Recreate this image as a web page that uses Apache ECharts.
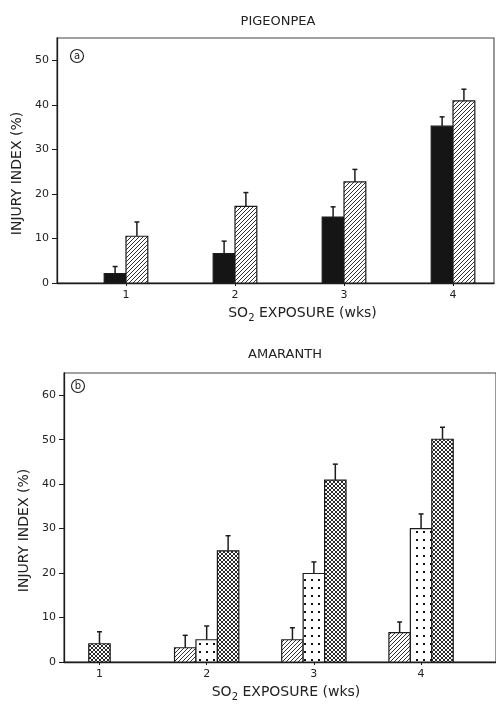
<!DOCTYPE html>
<html>
<head>
<meta charset="utf-8">
<script src="https://cdn.jsdelivr.net/npm/echarts@6/dist/echarts.min.js"></script>
<style>
  html, body { margin: 0; padding: 0; background: #fff; }
  #chart { width: 496px; height: 707px; }
</style>
</head>
<body>
<div id="chart"></div>
<script>
// weeks of SO2 exposure
const weeks = [1, 2, 3, 4];

// (a) pigeonpea - injury index (%) and upper error
const pigeonSolid = [2.1, 6.6, 14.8, 35.2];
const pigeonSolidErr = [1.6, 2.8, 2.3, 2.1];
const pigeonHatch = [10.5, 17.2, 22.7, 40.9];
const pigeonHatchErr = [3.2, 3.1, 2.8, 2.6];

// (b) amaranth
const amaHatch = [null, 3.2, 5.0, 6.6];
const amaHatchErr = [null, 2.8, 2.7, 2.4];
const amaDots = [null, 5.0, 19.9, 30.0];
const amaDotsErr = [null, 3.1, 2.6, 3.3];
const amaCross = [4.1, 25.0, 40.9, 50.1];
const amaCrossErr = [2.7, 3.4, 3.6, 2.7];

const topTicks = [0, 10, 20, 30, 40, 50];
const bottomTicks = [0, 10, 20, 30, 40, 50, 60];

const ink = '#1c1c1c';
const font = 'DejaVu Sans';

// fill patterns
function makeTile(w, h, draw) {
  const c = document.createElement('canvas');
  c.width = w;
  c.height = h;
  const g = c.getContext('2d');
  g.fillStyle = '#fff';
  g.fillRect(0, 0, w, h);
  draw(g);
  return { image: c, repeat: 'repeat' };
}
const hatchFill = makeTile(4, 4, g => {
  g.strokeStyle = '#333';
  g.lineWidth = 1;
  g.beginPath();
  g.moveTo(-1, 5); g.lineTo(5, -1);
  g.moveTo(-1, 1); g.lineTo(1, -1);
  g.moveTo(3, 5); g.lineTo(5, 3);
  g.stroke();
});
const crossFill = makeTile(4, 4, g => {
  g.strokeStyle = '#2a2a2a';
  g.lineWidth = 1;
  g.beginPath();
  g.moveTo(-1, 5); g.lineTo(5, -1);
  g.moveTo(-1, 1); g.lineTo(1, -1);
  g.moveTo(3, 5); g.lineTo(5, 3);
  g.moveTo(-1, -1); g.lineTo(5, 5);
  g.moveTo(-1, 3); g.lineTo(1, 5);
  g.moveTo(3, -1); g.lineTo(5, 1);
  g.stroke();
});
const dotFill = makeTile(7, 8, g => {
  g.fillStyle = '#111';
  g.fillRect(3, 3, 2, 2);
});

// bars of one panel, side by side and centred on each week
function panelSeries(idx, sets) {
  return {
    type: 'custom',
    xAxisIndex: idx,
    yAxisIndex: idx,
    clip: false,
    data: weeks.map(w => [w, 0]),
    encode: { x: 0, y: 1 },
    renderItem: (params, api) => {
      const i = params.dataIndex;
      const present = sets.filter(s => s.values[i] != null);
      const bw = api.size([1, 0])[0] * 0.2;
      const base = api.coord([weeks[i], 0]);
      const x0 = base[0] - bw * present.length / 2;
      const children = [];
      present.forEach((s, k) => {
        const top = api.coord([weeks[i], s.values[i]]);
        const errTop = api.coord([weeks[i], s.values[i] + s.errs[i]]);
        const x = x0 + k * bw;
        const cx = x + bw / 2;
        children.push({
          type: 'line',
          shape: { x1: cx, y1: top[1], x2: cx, y2: errTop[1] },
          style: { stroke: ink, lineWidth: 1.5 }
        });
        children.push({
          type: 'line',
          shape: { x1: cx - 2.5, y1: errTop[1], x2: cx + 2.5, y2: errTop[1] },
          style: { stroke: ink, lineWidth: 1.5 }
        });
        children.push({
          type: 'rect',
          shape: { x: x, y: top[1], width: bw, height: base[1] - top[1] },
          style: { fill: s.fill, stroke: ink, lineWidth: 1.2 }
        });
      });
      return { type: 'group', children: children };
    }
  };
}

const labelStyle = { color: '#222', fontFamily: font, fontSize: 11 };
const nameStyle = { color: '#222', fontFamily: font, fontSize: 14 };

function xAxisFor(idx, min, max, pad) {
  return {
    type: 'value',
    gridIndex: idx,
    min: min,
    max: max,
    splitLine: { show: false },
    axisLine: { show: true, lineStyle: { color: ink, width: 1.3 } },
    axisTick: { show: true, length: 3, customValues: weeks, lineStyle: { color: ink } },
    axisLabel: Object.assign({ customValues: weeks, margin: 7, fontSize: 10 }, labelStyle),
    name: 'SO{sub|2} EXPOSURE (wks)',
    nameLocation: 'middle',
    nameGap: 21,
    nameTextStyle: Object.assign({}, nameStyle, {
      padding: [0, 0, 0, pad],
      rich: { sub: { fontFamily: font, fontSize: 10, color: '#222', padding: [9, 0, 0, 0] } }
    })
  };
}

function yAxisFor(idx, max, ticks, gap) {
  return {
    type: 'value',
    gridIndex: idx,
    min: 0,
    max: max,
    splitLine: { show: false },
    axisLine: { show: true, lineStyle: { color: ink, width: 1.3 } },
    axisTick: { show: true, length: 5, customValues: ticks, lineStyle: { color: ink } },
    axisLabel: Object.assign({ customValues: ticks, margin: 8 }, labelStyle),
    name: 'INJURY INDEX (%)',
    nameLocation: 'middle',
    nameRotate: 90,
    nameGap: gap,
    nameTextStyle: Object.assign({}, nameStyle, { padding: [0, 26, 0, 0] })
  };
}

function circledLetter(cx, cy, letter) {
  return {
    type: 'group',
    children: [
      { type: 'circle', shape: { cx: cx, cy: cy, r: 6.5 }, style: { fill: '#fff', stroke: ink, lineWidth: 1.1 } },
      { type: 'text', x: cx, y: cy, style: { text: letter, fill: ink, font: '10px ' + font, align: 'center', verticalAlign: 'middle' } }
    ]
  };
}

const chart = echarts.init(document.getElementById('chart'), null, { renderer: 'canvas' });
chart.setOption({
  backgroundColor: '#fff',
  animation: false,
  title: [
    { text: 'PIGEONPEA', left: 273, top: 10, textAlign: 'center',
      textStyle: { color: '#222', fontFamily: font, fontSize: 13, fontWeight: 'normal' } },
    { text: 'AMARANTH', left: 280, top: 343, textAlign: 'center',
      textStyle: { color: '#222', fontFamily: font, fontSize: 13, fontWeight: 'normal' } }
  ],
  grid: [
    { left: 57, top: 38, width: 437, height: 245, show: true, borderColor: '#444', borderWidth: 1.1 },
    { left: 64, top: 373, width: 440, height: 289, show: true, borderColor: '#444', borderWidth: 1.1 }
  ],
  xAxis: [
    xAxisFor(0, 0.367, 4.376, 54),
    xAxisFor(1, 0.669, 4.699, 12)
  ],
  yAxis: [
    yAxisFor(0, 55, topTicks, 28),
    yAxisFor(1, 65, bottomTicks, 29)
  ],
  graphic: [
    circledLetter(77, 56, 'a'),
    circledLetter(78, 386, 'b')
  ],
  series: [
    panelSeries(0, [
      { values: pigeonSolid, errs: pigeonSolidErr, fill: '#151515' },
      { values: pigeonHatch, errs: pigeonHatchErr, fill: hatchFill }
    ]),
    panelSeries(1, [
      { values: amaHatch, errs: amaHatchErr, fill: hatchFill },
      { values: amaDots, errs: amaDotsErr, fill: dotFill },
      { values: amaCross, errs: amaCrossErr, fill: crossFill }
    ])
  ]
});
</script>
</body>
</html>
